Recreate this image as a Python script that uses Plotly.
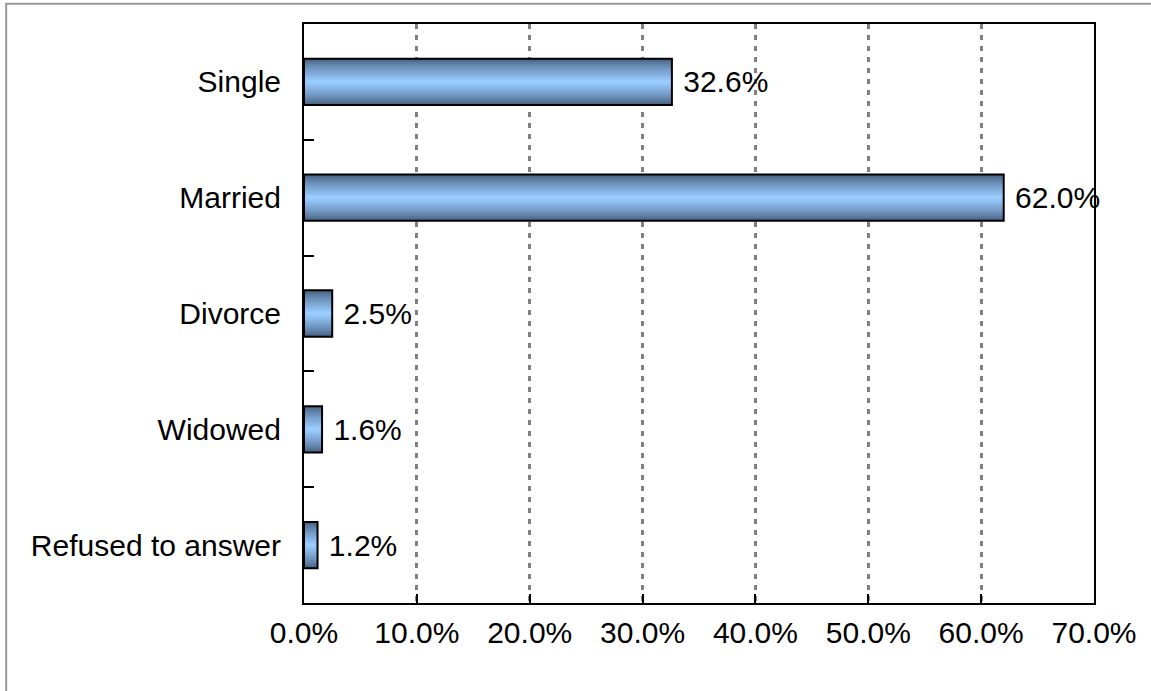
import plotly.graph_objects as go

categories = ["Single", "Married", "Divorce", "Widowed", "Refused to answer"]
values = [0.326, 0.620, 0.025, 0.016, 0.012]
tick_vals = [0, 0.1, 0.2, 0.3, 0.4, 0.5, 0.6, 0.7]

FONT = "Arial, 'Liberation Sans', sans-serif"
FS = 30
BAR_W = 0.4
DARK = (72, 98, 130)
LIGHT = (153, 204, 255)
N = 14

fig = go.Figure()
# gradient emulation: overlaid bars of decreasing thickness, getting lighter
for i in range(N):
    t = i / (N - 1)
    c = tuple(int(DARK[k] + (LIGHT[k] - DARK[k]) * (t ** 0.8)) for k in range(3))
    fig.add_trace(go.Bar(
        y=categories, x=values, orientation="h",
        width=BAR_W * (1 - i / N),
        marker=dict(color="rgb(%d,%d,%d)" % c, line=dict(width=0)),
        hoverinfo="skip", showlegend=False,
    ))
# outline + labels
fig.add_trace(go.Bar(
    y=categories, x=values, orientation="h", width=BAR_W,
    marker=dict(color="rgba(0,0,0,0)", line=dict(color="black", width=2)),
    texttemplate="\u00a0%{x:.1%}", textposition="outside", cliponaxis=False,
    textfont=dict(family=FONT, size=FS, color="black"),
    showlegend=False,
))

fig.update_layout(
    width=1151, height=691,
    margin=dict(l=304, r=57, t=24, b=88),
    paper_bgcolor="white", plot_bgcolor="white",
    barmode="overlay",
    font=dict(family=FONT, size=FS, color="black"),
    xaxis=dict(
        range=[0, 0.7], tickvals=tick_vals, tickformat=".1%",
        showgrid=True, gridcolor="#808080", gridwidth=2.5, griddash="5px,6px",
        showline=True, linecolor="black", linewidth=2, mirror=True,
        ticks="inside", ticklen=9, tickwidth=2, tickcolor="black",
        ticklabelstandoff=2, zeroline=False,
        tickfont=dict(family=FONT, size=FS, color="black"),
    ),
    yaxis=dict(
        categoryorder="array", categoryarray=categories, autorange="reversed",
        showgrid=False, showline=True, linecolor="black", linewidth=2, mirror=True,
        ticks="inside", ticklen=10, tickwidth=2, tickcolor="black",
        tickson="boundaries", ticklabelstandoff=15,
        tickfont=dict(family=FONT, size=FS, color="black"),
    ),
    shapes=[dict(
        type="rect", xref="paper", yref="paper",
        x0=-0.377, x1=1.2, y0=-0.3, y1=1.035,
        line=dict(color="#999999", width=2), fillcolor="rgba(0,0,0,0)", layer="below",
    )],
)

fig.write_html("out.html", config={"displayModeBar": False},
               post_script="document.body.style.margin='0';")
